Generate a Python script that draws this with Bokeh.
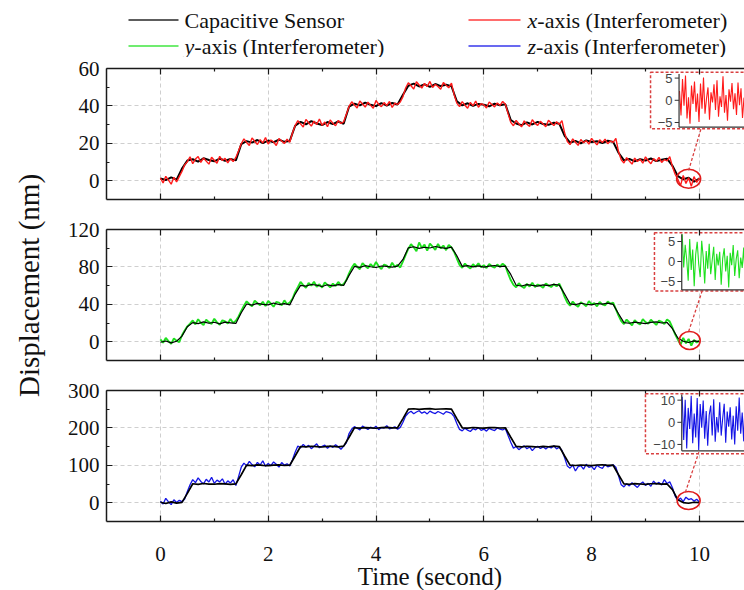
from math import pi
from bokeh.plotting import figure
from bokeh.layouts import column, row
from bokeh.models import Range1d, LinearAxis, FixedTicker, Grid, CustomJSTickFormatter
from bokeh.core.properties import value
from bokeh.embed import file_html
from bokeh.resources import INLINE

SERIF = "Liberation Serif"
SANS = "Liberation Sans"

# ---------------- data ----------------
DT_CAP = 0.1    # capacitive sensor sample interval (s)
DT_INT = 0.05   # interferometer sample interval (s)

cap_x = [1.2, 0.4, 1.8, 0.6, 6.5,
         10.8, 11.5, 10.2, 12.0, 11.1, 10.4, 11.9, 10.7, 11.6, 10.9,
         19.6, 21.2, 20.4, 21.8, 20.1, 21.5, 20.6, 22.0, 20.8, 21.3,
         29.4, 31.5, 30.2, 31.9, 30.6, 29.8, 31.4, 30.3, 31.7, 30.5,
         39.6, 41.2, 40.3, 41.8, 40.6, 39.9, 41.5, 40.2, 41.6, 40.8,
         46.0,
         50.8, 51.9, 50.4, 51.5, 50.2, 51.7, 50.6, 51.3, 50.5,
         42.5,
         40.3, 41.4, 40.0, 41.1, 40.6, 39.8, 41.2, 40.4, 40.9,
         32.5,
         30.6, 29.7, 31.2, 30.1, 31.5, 30.3, 29.9, 31.0, 30.5,
         24.0,
         20.4, 21.3, 20.0, 21.6, 20.7, 21.1, 20.2, 21.4, 20.8,
         15.0,
         10.9, 11.7, 10.4, 11.5, 10.8, 11.9, 10.5, 11.2, 11.8,
         8.0, 2.5,
         0.8, 1.6, -0.5, 1.2]

int_x = [1.5, -1.2, 2.4, 0.3, -1.8, 1.9, -0.6, 2.2, 5.0, 8.5,
         10.2, 12.8, 9.1, 11.6, 13.0, 9.8, 12.2, 10.5, 8.9, 12.6, 11.0, 9.4, 13.1, 10.8, 12.0, 9.6, 11.9, 10.3, 12.5,
         16.0,
         19.8, 22.4, 20.5, 18.9, 22.9, 21.1, 19.4, 22.0, 20.2, 23.1, 19.6, 21.8, 20.7, 18.8, 22.6, 21.3, 19.9, 22.2, 20.6,
         25.5,
         29.5, 32.1, 30.4, 28.7, 32.8, 31.0, 29.2, 31.9, 30.1, 33.0, 29.6, 31.4, 28.9, 32.5, 30.8, 29.4, 32.2, 30.6, 31.5,
         35.5,
         39.8, 42.2, 40.5, 38.9, 42.6, 41.0, 39.4, 42.0, 40.3, 38.8, 42.9, 40.8, 39.6, 41.8, 40.1, 42.4, 39.2, 41.5, 40.7, 42.1,
         45.0,
         49.6, 52.4, 50.8, 49.0, 52.9, 51.2, 49.5, 52.0, 50.3, 53.1, 49.8, 51.6, 50.4, 48.9, 52.5, 51.0, 49.7, 52.2,
         46.0,
         41.5, 39.6, 42.3, 40.4, 38.8, 41.9, 40.1, 42.6, 39.3, 41.2, 40.6, 38.9, 42.1, 40.8, 39.5, 41.6, 40.2, 42.4, 40.9,
         36.0,
         31.2, 29.4, 32.3, 30.5, 28.8, 32.0, 30.2, 29.1, 32.6, 30.7, 29.6, 31.8, 30.3, 28.9, 32.4, 30.9, 29.5, 31.6, 30.1, 32.2,
         25.5,
         21.0, 19.3, 22.4, 20.6, 18.9, 22.1, 20.3, 21.5, 19.6, 22.7, 20.8, 19.2, 21.9, 20.4, 22.3, 19.8, 21.2, 20.5, 22.6,
         15.5,
         11.2, 9.5, 12.4, 10.6, 8.9, 12.1, 10.3, 11.6, 9.4, 12.8, 10.7, 9.1, 11.9, 10.4, 12.5, 9.8, 11.3, 10.6, 12.9,
         7.5, 3.5,
         0.8, -2.6, 2.9, -1.4, 1.7, -3.0, 2.2, -0.9, 1.5]

cap_y = [-0.5, 0.8, -1.2, 0.6, 6.0, 16.0,
         20.5, 19.4, 21.3, 19.8, 20.9, 19.2, 21.0, 20.3, 19.6,
         31.0,
         40.4, 39.2, 41.1, 40.0, 39.5, 41.4, 39.8, 40.7, 39.4,
         51.0,
         60.3, 59.5, 61.2, 60.6, 59.1, 60.9, 59.8, 61.0, 60.2,
         71.0,
         80.5, 79.6, 81.3, 80.2, 79.4, 81.0, 80.6, 79.8, 80.9,
         88.0,
         100.4, 101.6, 99.8, 101.0, 100.2, 101.8, 100.6, 99.9, 101.2,
         92.0,
         80.6, 81.4, 80.0, 81.2, 79.8, 80.9, 81.5, 80.3, 80.8,
         72.0,
         60.4, 59.6, 61.1, 60.2, 59.4, 60.8, 60.0, 61.3, 60.5,
         51.0,
         40.6, 39.7, 41.2, 40.1, 39.5, 40.9, 40.3, 41.4, 40.0,
         30.0,
         20.5, 19.8, 21.0, 20.2, 19.4, 20.8, 21.3, 20.1, 20.6,
         14.0, 4.0,
         0.6, -0.8, 1.0, 0.2]

int_y = [2.5, -1.0, 4.1, 0.8, -2.2, 3.6, 1.2, -0.5, 7.0, 12.0, 16.5, 19.5,
         22.8, 18.6, 24.1, 20.3, 17.9, 23.5, 21.0, 19.2, 24.6, 20.8, 18.1, 23.0, 21.7, 19.5, 24.3, 20.1, 22.4,
         27.0, 33.0,
         38.5, 43.2, 40.4, 37.8, 44.0, 41.2, 39.0, 42.8, 38.3, 43.6, 40.9, 37.5, 42.5, 41.8, 38.9, 44.3, 40.1, 42.0,
         46.0, 53.0,
         58.4, 63.9, 60.6, 57.6, 62.8, 60.0, 64.2, 58.9, 61.5, 57.9, 63.4, 60.8, 58.2, 62.1, 59.5, 64.0, 60.3, 61.7,
         66.0, 73.0,
         79.0, 83.4, 80.2, 77.6, 84.1, 81.0, 78.5, 83.0, 79.7, 85.2, 80.6, 77.8, 82.6, 81.3, 78.9, 84.5, 80.0, 82.2, 79.4,
         86.0, 93.0,
         99.5, 104.3, 101.0, 96.8, 106.2, 100.4, 103.8, 97.5, 105.0, 101.6, 98.2, 104.6, 99.9, 102.8, 97.9, 103.5, 100.8,
         96.0, 89.0,
         82.3, 79.1, 83.6, 80.5, 78.4, 82.9, 80.0, 84.0, 79.6, 81.8, 78.9, 83.2, 80.7, 79.3, 82.5, 80.2, 83.4, 81.0,
         73.0, 66.0,
         60.8, 58.2, 62.6, 59.5, 57.4, 61.9, 59.0, 63.1, 58.6, 61.2, 59.9, 57.8, 62.4, 60.3, 58.5, 61.6, 59.2, 62.0,
         56.0, 48.0,
         41.8, 38.6, 42.9, 39.7, 37.5, 42.2, 40.4, 38.1, 43.5, 39.9, 41.3, 37.9, 42.6, 40.0, 38.8, 43.0, 40.7, 41.9,
         35.0, 28.0,
         22.0, 18.9, 23.8, 20.6, 17.6, 23.1, 20.2, 18.4, 24.2, 21.0, 19.3, 23.5, 20.8, 18.0, 22.7, 21.4, 19.0, 23.9, 21.6,
         15.0, 8.0,
         2.5, -3.0, 4.2, -1.6, 3.1, -4.0, 2.0, -0.8, 1.4]

cap_z = [1.5, -2.0, 2.5, -1.0, 1.0, 25.0,
         50.8, 49.2, 51.5, 50.1, 49.6, 51.0, 50.4, 49.3, 50.7,
         75.0,
         100.6, 99.4, 101.2, 100.0, 99.1, 100.8, 101.4, 99.7, 100.3,
         125.0,
         150.4, 149.5, 151.1, 150.2, 149.0, 150.9, 150.5, 149.6, 151.3,
         175.0,
         200.5, 199.6, 201.0, 200.2, 199.2, 200.8, 201.3, 199.9, 200.4,
         225.0,
         250.3, 251.2, 249.6, 250.8, 251.5, 249.9, 250.6, 251.0, 250.2,
         225.0,
         200.4, 199.5, 201.1, 200.0, 199.3, 200.7, 201.2, 199.8, 200.5,
         175.0,
         150.6, 149.4, 151.0, 150.2, 149.1, 150.8, 149.7, 151.2, 150.3,
         125.0,
         100.5, 99.6, 101.0, 100.1, 99.2, 100.9, 101.3, 99.8, 100.4,
         75.0,
         50.6, 49.5, 51.1, 50.2, 49.1, 50.8, 51.4, 49.7, 50.3,
         35.0, 8.0,
         0.6, -1.2, 1.5, 0.2]

int_z = [4.0, -3.5, 12.0, 2.5, -5.0, 8.0, 1.0, 6.5, 3.0, 10.0, 30.0, 48.0,
         62.0, 54.0, 66.5, 57.0, 50.5, 63.0, 55.5, 68.0, 52.0, 60.5, 56.0, 64.0, 49.5, 58.5, 53.0, 61.5, 46.0,
         70.0, 95.0,
         106.0, 98.5, 110.5, 102.0, 96.0, 108.0, 101.0, 112.0, 97.5, 105.0, 99.0, 109.0, 103.0, 95.5, 107.5, 100.5, 104.0, 98.0,
         115.0, 135.0,
         152.0, 146.5, 156.0, 149.0, 153.5, 144.5, 151.0, 157.5, 147.0, 150.5, 154.0, 145.5, 152.5, 148.0, 155.0, 149.5, 143.0, 151.5,
         160.0, 185.0,
         197.0, 203.5, 199.0, 194.5, 205.0, 200.5, 196.0, 202.0, 198.5, 204.5, 195.5, 201.0, 199.5, 206.0, 197.5, 200.0, 203.0, 196.5, 201.5,
         215.0, 232.0,
         240.0, 244.5, 238.0, 242.5, 246.0, 239.5, 243.0, 237.5, 245.0, 241.0, 238.5, 244.0, 240.5, 236.5, 243.5, 241.5, 239.0,
         230.0, 212.0,
         196.0, 192.0, 199.5, 194.0, 190.5, 198.0, 195.0, 201.0, 193.5, 197.0, 191.5, 199.0, 195.5, 193.0, 200.0, 196.5, 194.5, 198.5,
         180.0, 162.0,
         146.0, 150.5, 142.0, 148.0, 152.0, 144.5, 149.0, 139.5, 147.5, 151.0, 145.0, 149.5, 143.5, 150.0, 146.5, 152.5, 144.0, 148.5,
         140.0, 120.0,
         98.0, 92.5, 101.0, 85.0, 96.5, 99.5, 90.0, 103.0, 94.5, 97.0, 88.5, 100.5, 95.0, 92.0, 102.0, 96.0, 98.5, 101.5,
         95.0, 72.0,
         48.0, 42.5, 51.0, 45.0, 53.5, 47.0, 41.0, 50.0, 55.5, 46.5, 52.0, 44.0, 58.0, 49.5, 54.5, 47.5, 62.0, 51.5, 56.0,
         40.0, 18.0,
         6.0, 12.5, 3.0, 15.0, 8.5, 11.0, 4.5, 9.5, 2.0]

# zoomed noise near t = 9.8 s (insets)
inset_x = [2.1, -3.4, 4.8, -1.2, 5.6, -4.1, 0.7, -5.3, 3.3, -0.8, 4.2, -2.6, 1.5, -4.9, 3.8,
           -1.9, 5.1, -3.0, 0.4, 2.9, -4.4, 1.8, -0.5, 3.6, -2.2, 4.5, -3.7, 0.9, -1.5, 5.4,
           -2.8, 1.2, -4.6, 2.5, -0.3, 3.9, -2.0, 1.6, -3.3, 4.0, -1.1, 2.7, -4.0, 0.6]
inset_y = [6.8, -1.5, 4.2, 0.5, -4.8, 5.6, -2.1, 3.0, -6.2, 1.8, 4.9, -0.6, -3.9, 5.2, 1.1,
           -5.5, 2.6, -1.8, 4.4, -3.2, 0.3, 3.7, -4.6, 1.9, -1.0, 2.4, -5.8, 0.8, 3.3, -2.5,
           1.4, -6.5, 2.2, -0.9, 4.1, -3.6, 0.6, 2.8, -4.2, 1.0, -1.6, 3.5, -5.0, 6.2]
inset_z = [11.5, -8.0, 10.2, -11.8, 6.5, -3.0, 12.0, -9.5, 4.0, -6.8, 11.0, -12.5, 8.2, -2.5, 9.8,
           -7.4, 5.1, -10.6, 3.3, 7.6, -5.9, 10.4, -8.8, 2.4, -4.6, 9.0, -6.0, 1.8, 8.4, -9.2,
           4.9, -2.0, 6.8, -7.8, 3.0, -10.0, 7.2, -3.8, 11.2, -5.2, 4.4, -8.6, 12.3, -1.5]

x_ticks = [0, 2, 4, 6, 8, 10]
x_minor = [1, 3, 5, 7, 9]
x_tick_labels = ["0", "2", "4", "6", "8", "10"]

legend_labels = ["Capacitive Sensor", "x", "y", "z"]
legend_suffix = "-axis (Interferometer)"
y_title = "Displacement (nm)"
x_title = "Time (second)"

RED = "#ff1a1a"
GREEN = "#1ee01e"
BLUE = "#1414e6"
BOXRED = "#d94040"
FRAME = "#1a1a1a"

TW = 50                 # width of the strip holding the vertical title
FW, FH = 638, 131
LEFT = 106              # absolute pixel of the frames' left edge
PLEFT = LEFT - TW
X_END = -1 + FW / 53.9
LG_H = 57


def times(vals, dt):
    return [round(i * dt, 3) for i in range(len(vals))]


def style_axis(ax, show_labels):
    ax.axis_line_width = 1.5
    ax.axis_line_color = FRAME
    ax.major_tick_in = 6
    ax.major_tick_out = 0
    ax.minor_tick_in = 3
    ax.minor_tick_out = 0
    ax.major_tick_line_color = FRAME
    ax.minor_tick_line_color = FRAME
    ax.major_tick_line_width = 1.2
    ax.minor_tick_line_width = 1.2
    if show_labels:
        ax.major_label_text_font = SERIF
        ax.major_label_text_font_size = "21px"
        ax.major_label_text_color = "#111111"
    else:
        ax.formatter = CustomJSTickFormatter(code="return ''")
        ax.major_label_text_font_size = "0px"
        ax.major_label_standoff = 0


def panel(yr, yt, ym, cap, inter, col, black_on_top, widths, inset_vals, ins, mb_top, mb_bottom):
    p = figure(width=PLEFT + FW, height=mb_top + FH + mb_bottom, frame_width=FW, frame_height=FH,
               x_range=Range1d(-1, X_END), y_range=Range1d(*yr),
               x_axis_type=None, y_axis_type=None, output_backend="svg", toolbar_location=None,
               min_border_left=PLEFT, min_border_right=0, min_border_top=mb_top, min_border_bottom=mb_bottom)
    p.outline_line_color = None

    for dim, tk in ((0, x_ticks), (1, yt)):
        p.add_layout(Grid(dimension=dim, ticker=FixedTicker(ticks=tk), grid_line_color="#cfcfcf",
                          grid_line_dash="4 3", grid_line_width=1))

    bottom = LinearAxis(ticker=FixedTicker(ticks=x_ticks, minor_ticks=x_minor))
    style_axis(bottom, False)
    p.add_layout(bottom, "below")
    top = LinearAxis(ticker=FixedTicker(ticks=x_ticks, minor_ticks=x_minor))
    style_axis(top, False)
    p.add_layout(top, "above")
    left = LinearAxis(ticker=FixedTicker(ticks=yt, minor_ticks=ym))
    style_axis(left, True)
    left.major_label_standoff = 7
    p.add_layout(left, "left")

    tc, ti = times(cap, DT_CAP), times(inter, DT_INT)
    wc, wi = widths
    if black_on_top:
        p.line(ti, inter, line_color=col, line_width=wi)
        p.line(tc, cap, line_color="black", line_width=wc)
    else:
        p.line(tc, cap, line_color="black", line_width=wc)
        p.line(ti, inter, line_color=col, line_width=wi)

    # inset (own ranges)
    p.extra_x_ranges = {"ix": Range1d(ins["ix0"], ins["ix0"] + FW / 1.5)}
    p.extra_y_ranges = {"iy": Range1d(*ins["iy"])}
    kw = dict(x_range_name="ix", y_range_name="iy")
    p.quad(left=[ins["box_l"]], right=[300], bottom=[ins["box_b"]], top=[ins["box_t"]],
           fill_color="white", line_color=BOXRED, line_dash="3 2", line_width=1.5, **kw)
    ii = list(range(len(inset_vals)))
    p.line(ii, inset_vals, line_color=col, line_width=1.1, **kw)
    pb, pt = ins["plot"]
    p.segment(x0=[-0.3, -0.3], y0=[pb, pb], x1=[-0.3, 300], y1=[pt, pb],
              line_color="#333333", line_width=1.2, **kw)
    p.segment(x0=[-0.3] * 3, y0=ins["ticks"], x1=[-3.2] * 3, y1=ins["ticks"],
              line_color="#333333", line_width=1.0, **kw)
    p.text(x=[-4.6] * 3, y=ins["ticks"], text=ins["labels"], text_align="right",
           text_baseline="middle", text_font=value(SANS), text_font_size="13px",
           text_color="#444444", **kw)

    cx, cy, w, h = ins["circle"]
    p.ellipse(x=[cx], y=[cy], width=[w], height=[h], width_units="screen", height_units="screen",
              fill_color=None, line_color="#e01c1c", line_width=1.6)
    (x1, y1), (x2, y2) = ins["conn"]
    p.line([x1, x2], [y1, y2], line_color=BOXRED, line_dash="3 2", line_width=1.3)
    return p


p1 = panel((-10, 60), [0, 20, 40, 60], [10, 30, 50], cap_x, int_x, RED, False, (2.0, 1.4), inset_x,
           dict(ix0=-(679 - LEFT) / 1.5, iy=(-22.34, 7.16), box_l=-19.3, box_b=-6.42, box_t=6.33,
                plot=(-6.06, 5.9), ticks=[5, 0, -5], labels=["5", "0", "\u22125"],
                circle=(9.80, 1.1, 24, 19), conn=((9.80, 5.5), (10.03, 27.8))),
           68 - LG_H, 15)
p2 = panel((-20, 120), [0, 40, 80, 120], [20, 60, 100], cap_y, int_y, GREEN, True, (1.2, 1.9), inset_y,
           dict(ix0=-(681.7 - LEFT) / 1.5, iy=(-24.75, 8.0), box_l=-18.5, box_b=-7.4, box_t=7.2,
                plot=(-7.1, 6.8), ticks=[5, 0, -5], labels=["5", "0", "\u22125"],
                circle=(9.82, 1.4, 21, 18), conn=((9.80, 11.0), (10.05, 54.1))),
           15, 15)
p3 = panel((-50, 300), [0, 100, 200, 300], [50, 150, 250], cap_z, int_z, BLUE, True, (1.7, 1.3), inset_z,
           dict(ix0=-(681.7 - LEFT) / 1.5, iy=(-44.79, 14.36), box_l=-24.5, box_b=-14.2, box_t=12.9,
                plot=(-12.9, 12.6), ticks=[10, 0, -10], labels=["10", "0", "\u221210"],
                circle=(9.80, 6.1, 23, 18), conn=((9.74, 28.3), (9.99, 135.2))),
           15, 8)

# bottom strip: x tick labels and x title (shares the time scale)
SH = 61
st = figure(width=PLEFT + FW, height=SH, frame_width=FW, frame_height=SH, x_range=Range1d(-1, X_END),
            y_range=Range1d(SH, 0), x_axis_type=None, y_axis_type=None, output_backend="svg",
            toolbar_location=None, min_border_left=PLEFT, min_border_right=0, min_border_top=0,
            min_border_bottom=0)
st.outline_line_color = None
st.text(x=x_ticks, y=[24] * len(x_ticks), text=x_tick_labels, text_align="center", text_baseline="middle",
        text_font=value(SERIF), text_font_size="21px", text_color="#111111")
st.text(x=[5.0], y=[46.5], text=[x_title], text_align="center", text_baseline="middle",
        text_font=value(SERIF), text_font_size="25px", text_color="#111111")

# legend strip (absolute pixel coordinates)
lg = figure(width=PLEFT + FW, height=LG_H, frame_width=FW, frame_height=LG_H, x_range=Range1d(LEFT, LEFT + FW),
            y_range=Range1d(LG_H, 0), x_axis_type=None, y_axis_type=None, output_backend="svg",
            toolbar_location=None, min_border_left=PLEFT, min_border_right=0, min_border_top=0,
            min_border_bottom=0)
lg.outline_line_color = None
leg_cols = ["black", RED, GREEN, BLUE]
leg_line_x = [(128, 178), (468, 520), (128, 178), (468, 520)]
leg_y = [19.5, 19.5, 45.5, 45.5]
leg_text_x = [184, 527, 184, 527]
ital_w = {"x": 9.8, "y": 9.8, "z": 8.6}
for lab, c, (a, b), yy, tx in zip(legend_labels, leg_cols, leg_line_x, leg_y, leg_text_x):
    lg.segment(x0=[a], y0=[yy], x1=[b], y1=[yy], line_color=c, line_width=1.6, line_alpha=0.85)
    if lab == "Capacitive Sensor":
        lg.text(x=[tx], y=[yy], text=[lab], text_font=value(SERIF), text_font_size="22px",
                text_baseline="middle", text_color="#111111")
    else:
        lg.text(x=[tx], y=[yy], text=[lab], text_font=value(SERIF), text_font_size="22px",
                text_font_style="italic", text_baseline="middle", text_color="#111111")
        lg.text(x=[tx + ital_w[lab]], y=[yy], text=[legend_suffix], text_font=value(SERIF),
                text_font_size="22px", text_baseline="middle", text_color="#111111")

# left strip: vertical axis title spanning the three panels
tt = figure(width=TW, height=590, frame_width=TW, frame_height=590, x_range=Range1d(0, TW),
            y_range=Range1d(590, 0), x_axis_type=None, y_axis_type=None, output_backend="svg",
            toolbar_location=None, min_border=0)
tt.outline_line_color = None
tt.text(x=[28], y=[285], text=[y_title], angle=pi / 2, text_align="center", text_baseline="middle",
        text_font=value(SERIF), text_font_size="29px", text_color="#111111")

layout = row(tt, column(lg, p1, p2, p3, st, spacing=0), spacing=0)
open("out.html", "w").write(file_html(layout, INLINE))
